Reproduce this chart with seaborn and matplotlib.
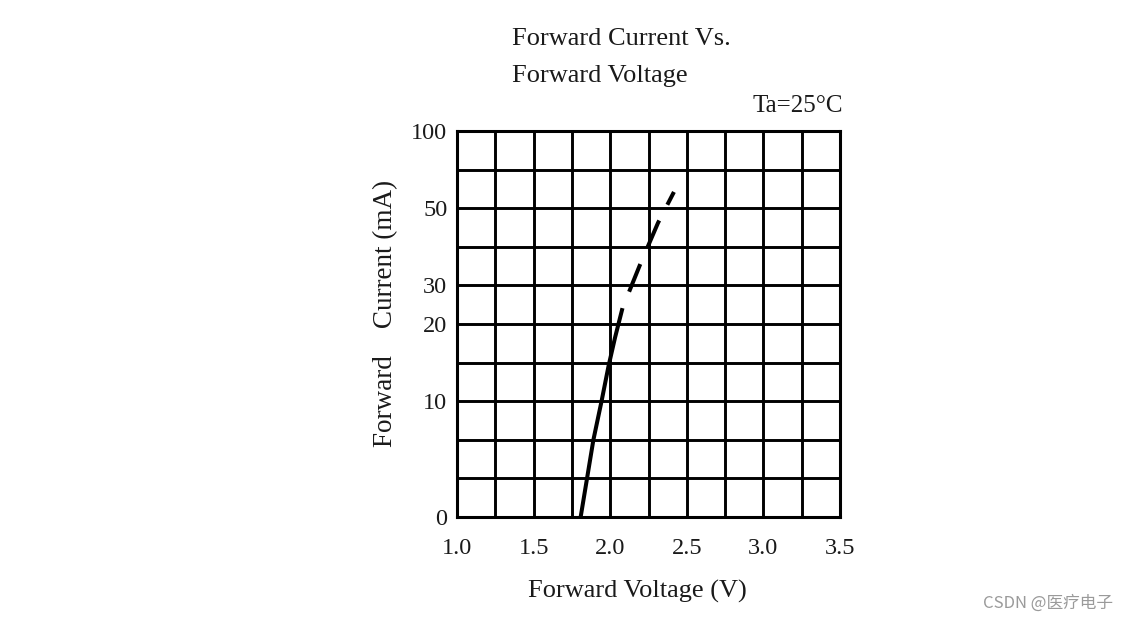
import numpy as np
import pandas as pd
import matplotlib
matplotlib.use('Agg')
import matplotlib.pyplot as plt
from matplotlib.ticker import MultipleLocator, FixedLocator
import seaborn as sns

# forward voltage (V) vs forward current (mA)
v_solid = [1.807, 1.847, 1.890, 1.945, 1.989, 2.031, 2.080]
i_solid = [0, 3.2, 6.65, 10.15, 14.55, 18.2, 24.1]
v_dash = [2.080, 2.194, 2.312, 2.416]
i_dash = [24.1, 35.3, 46.2, 60.5]

# the y axis is not linear: each labelled current sits on a given grid row
y_ticks = [0, 10, 20, 30, 50, 100]
y_rows = [0, 3, 5, 6, 8, 10]
grid_rows = [1, 2, 4, 7, 9]
x_ticks = [1.0, 1.5, 2.0, 2.5, 3.0, 3.5]

def fwd(v):
    return np.interp(v, y_ticks, y_rows)

def inv(r):
    return np.interp(r, y_rows, y_ticks)

sns.set_style("white")
plt.rcParams['font.family'] = ['Liberation Serif', 'DejaVu Serif']
txt = '#1a1a1a'

fig = plt.figure(figsize=(11.31, 6.21), dpi=100)
ax = fig.add_axes([0.4041, 0.1675, 0.3386, 0.6216])

df_s = pd.DataFrame({'V': v_solid, 'I': i_solid})
df_d = pd.DataFrame({'V': v_dash, 'I': i_dash})
sns.lineplot(data=df_s, x='V', y='I', ax=ax, color='black', linewidth=2.9,
             sort=False, estimator=None, zorder=5)
sns.lineplot(data=df_d, x='V', y='I', ax=ax, color='black', linewidth=2.9,
             sort=False, estimator=None, zorder=5)
ax.lines[0].set_solid_capstyle('butt')
ax.lines[1].set_linestyle((7.4, (7.4, 4.4)))
ax.lines[1].set_dash_capstyle('butt')

ax.set_yscale('function', functions=(fwd, inv))
ax.set_xlim(1.0, 3.5)
ax.set_ylim(0, 100)
ax.xaxis.set_major_locator(FixedLocator(x_ticks))
ax.xaxis.set_minor_locator(MultipleLocator(0.25))
ax.yaxis.set_major_locator(FixedLocator(y_ticks))
ax.yaxis.set_minor_locator(FixedLocator(inv(np.array(grid_rows, dtype=float))))
ax.set_xticklabels(['%.1f' % t for t in x_ticks])
ax.set_yticklabels([str(t) for t in y_ticks])
ax.grid(True, which='both', color='black', linewidth=2.1)
ax.tick_params(which='both', length=0, labelsize=17.5, colors=txt)
ax.tick_params(axis='x', pad=15)
ax.tick_params(axis='y', pad=7)
for s in ax.spines.values():
    s.set_color('black')
    s.set_linewidth(2.2)
ax.set_xlabel('')
ax.set_ylabel('')

fig.text(0.4527, 0.9283, 'Forward Current Vs.', fontsize=19, color=txt, ha='left', va='baseline')
fig.text(0.4527, 0.868, 'Forward Voltage', fontsize=19, color=txt, ha='left', va='baseline')
fig.text(0.7454, 0.8195, 'Ta=25°C', fontsize=18, color=txt, ha='right', va='baseline')
fig.text(0.5632, 0.037, 'Forward Voltage (V)', fontsize=19, color=txt, ha='center', va='baseline')
fig.text(0.341, 0.495, 'Forward    Current (mA)', fontsize=19.5, color=txt, ha='center', va='center',
         rotation=90)
fig.text(0.984, 0.029, 'CSDN @医疗电子', fontsize=12, color='#9a9a9a', ha='right', va='center',
         family=['Noto Sans CJK SC', 'DejaVu Sans'])

fig.savefig('out.png', dpi=100, facecolor='white')
